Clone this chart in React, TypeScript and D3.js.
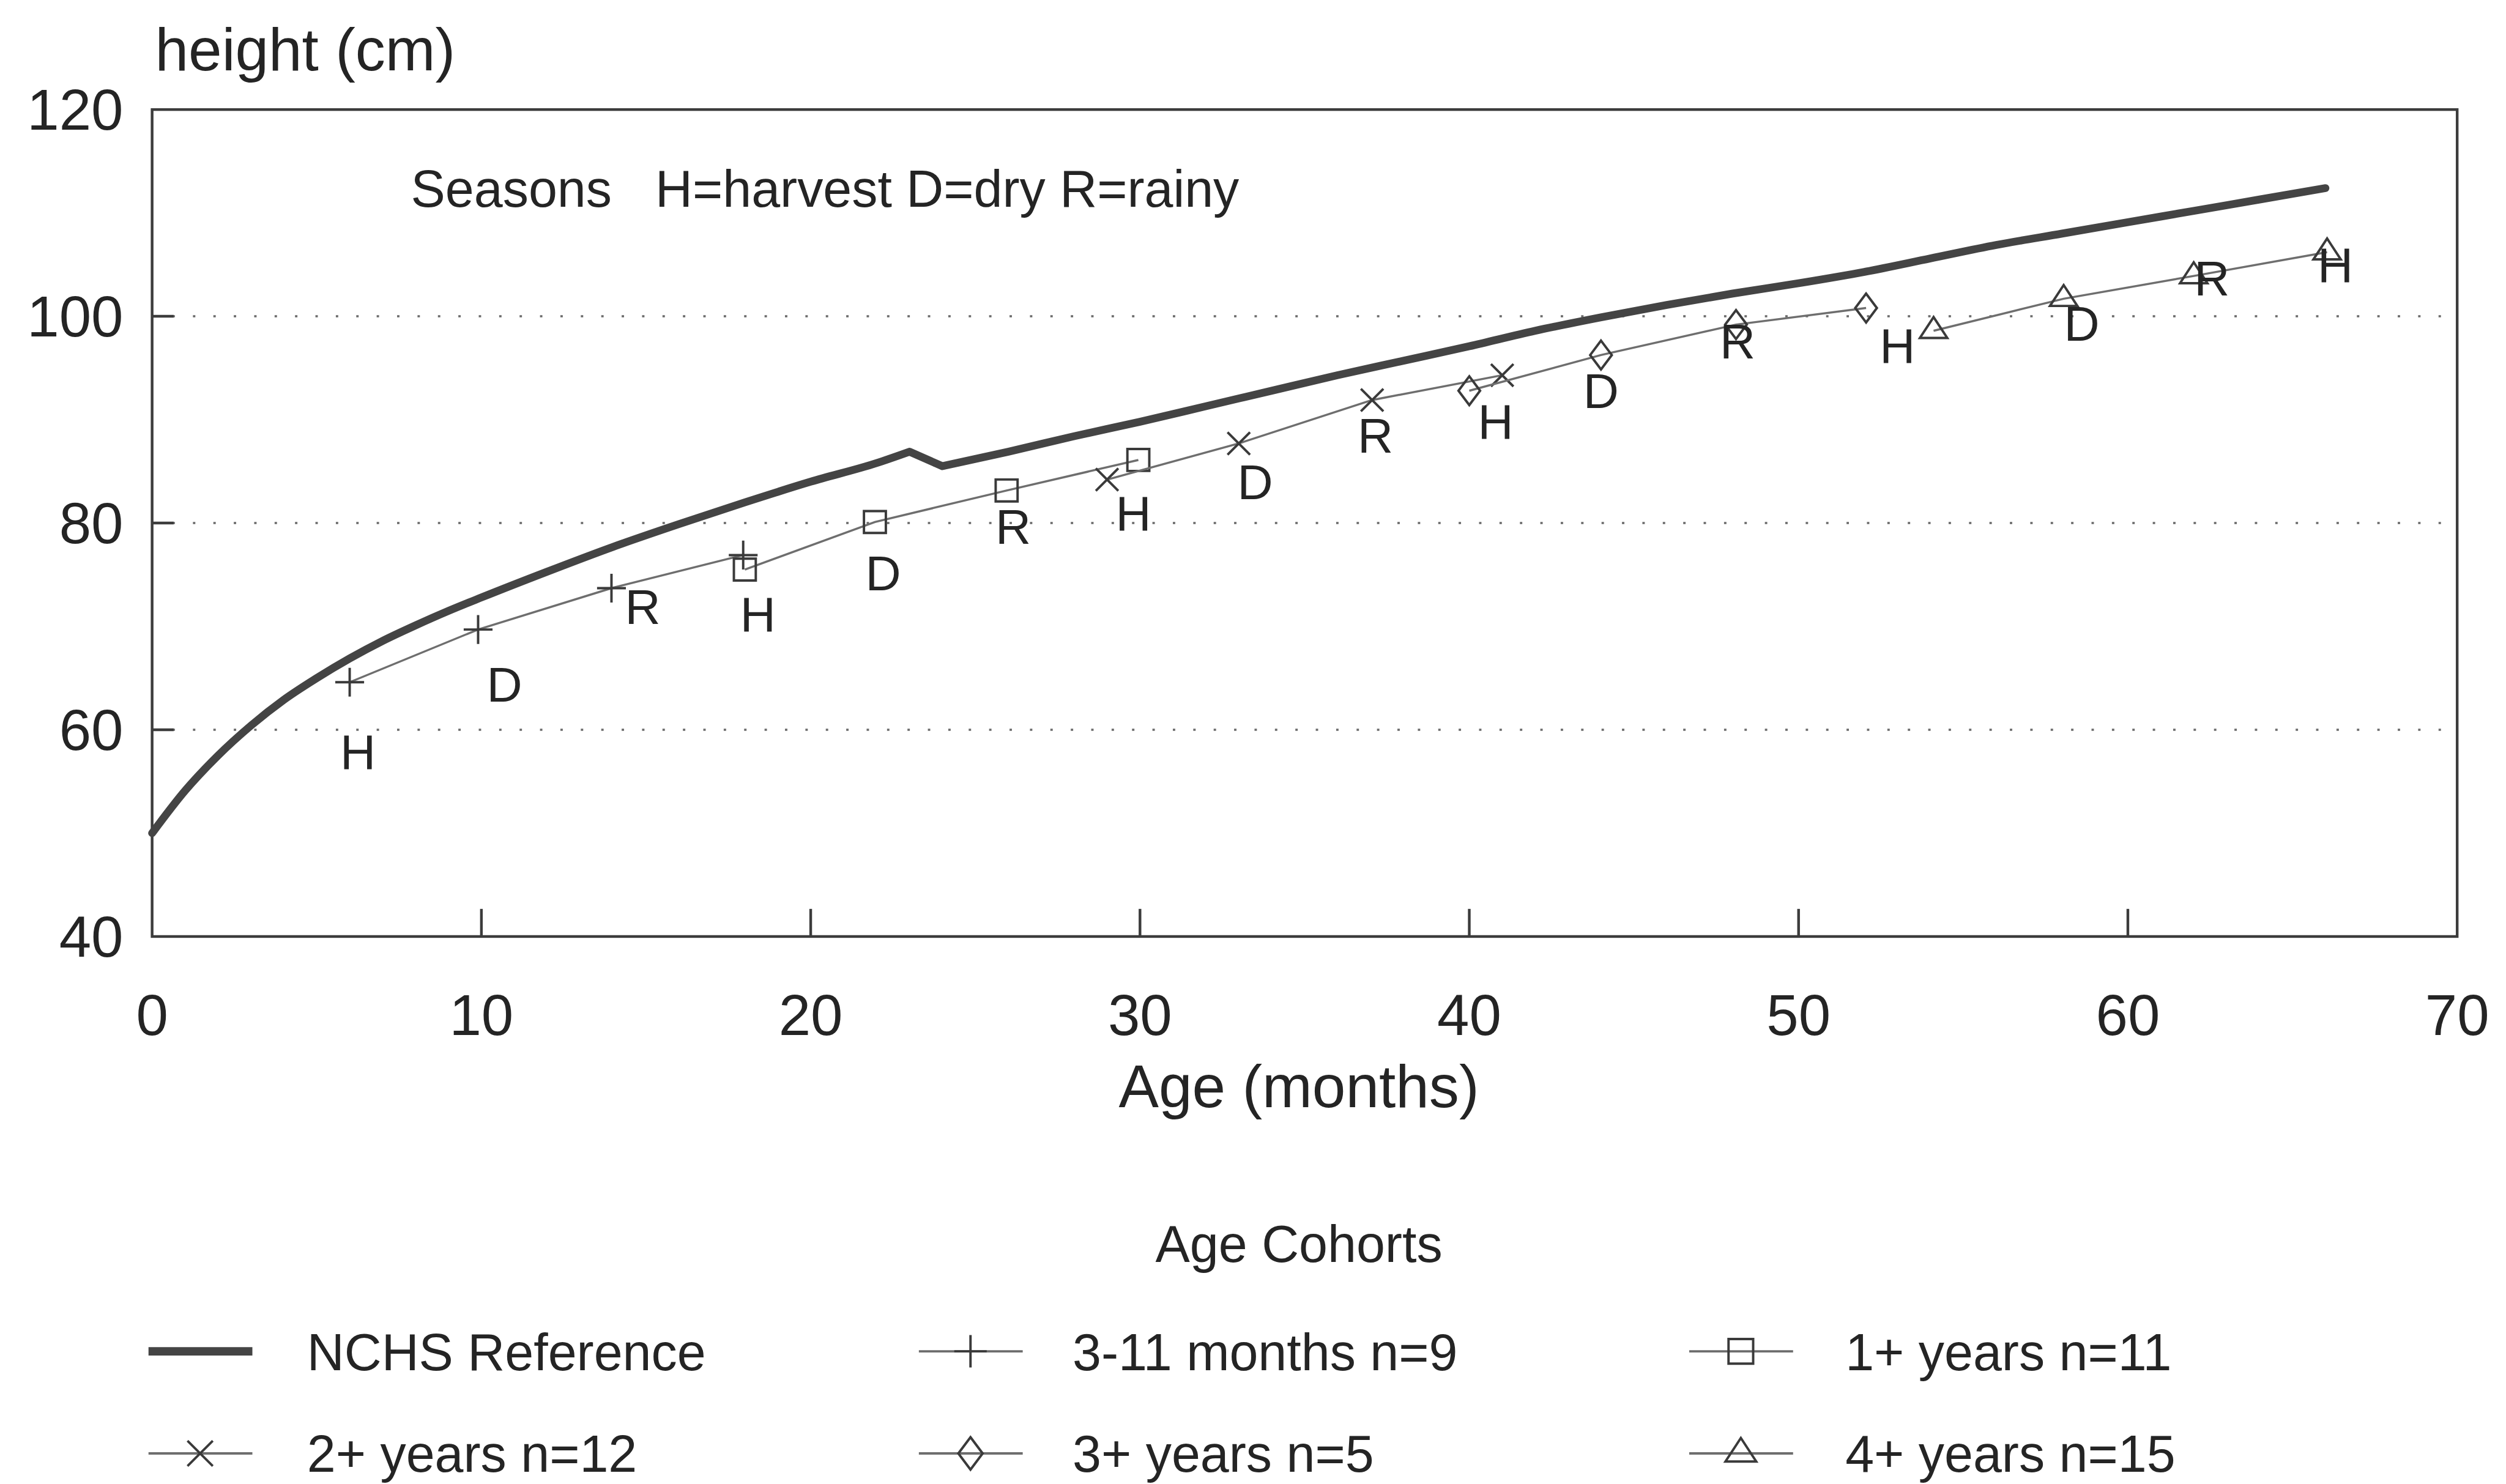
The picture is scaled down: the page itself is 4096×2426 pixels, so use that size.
import React from "react";
import * as d3 from "d3";

// reference pixel space, scaled to the window by the viewBox
const W = 4173;
const H = 2472;

const nchsAge = [0, 1, 2, 3, 4, 5, 6, 7, 8, 9, 10, 12, 14, 16, 18, 20, 22, 23, 24, 26, 28, 30, 32, 34, 36, 38, 40, 42, 44, 46, 48, 50, 52, 54, 56, 58, 60, 62, 64, 66];
const nchsHeight = [50.0, 54.1, 57.5, 60.4, 62.9, 65.0, 66.9, 68.6, 70.1, 71.5, 72.8, 75.3, 77.7, 79.9, 82.0, 84.0, 85.8, 86.9, 85.5, 86.9, 88.4, 89.8, 91.3, 92.8, 94.3, 95.7, 97.1, 98.6, 99.9, 101.1, 102.2, 103.2, 104.3, 105.6, 106.9, 108.0, 109.1, 110.2, 111.3, 112.4];
// recumbent length -> standing height switch
const nchsBreakAges = [23, 24];

const cohortNames = ["3-11 months n=9", "1+ years n=11", "2+ years n=12", "3+ years n=5", "4+ years n=15"];
const cohortMarkers = ["plus", "square", "times", "diamond", "triangle"];
const cohortAges = [
  [6.0, 9.9, 13.95, 17.95],
  [18.0, 21.95, 25.95, 29.95],
  [29.0, 33.0, 37.05, 41.0],
  [40.0, 44.0, 48.1, 52.05],
  [54.1, 58.05, 62.0, 66.05]
];
const cohortHeights = [
  [64.6, 69.7, 73.7, 76.9],
  [75.5, 80.1, 83.15, 86.1],
  [84.2, 87.7, 91.9, 94.3],
  [92.8, 96.25, 99.2, 100.8],
  [98.6, 101.7, 103.9, 106.2]
];

const seasonLetters = ["H", "D", "R", "H", "D", "R", "H", "D", "R", "H", "D", "R", "H", "D", "R", "H"];
const seasonAges = [6.25, 10.7, 14.9, 18.4, 22.2, 26.15, 29.8, 33.5, 37.15, 40.8, 44.0, 48.15, 53.0, 58.6, 62.55, 66.3];
const seasonHeights = [57.9, 64.4, 71.9, 71.2, 75.2, 79.7, 81.0, 84.0, 88.5, 89.85, 92.8, 97.6, 97.2, 99.3, 103.7, 105.0];

const xTicks = [0, 10, 20, 30, 40, 50, 60, 70];
const yTicks = [40, 60, 80, 100, 120];
const gridValues = [60, 80, 100];

const font = "'Liberation Sans', Arial, Helvetica, sans-serif";
const ink = "#242424";

const x = d3.scaleLinear().domain([0, 70]).range([253, 4092]);
const y = d3.scaleLinear().domain([40, 120]).range([1560, 182.5]);

// stroke-only marker shapes, size = half extent
const shapes = {
  plus: {
    draw(c, s) {
      c.moveTo(-s, 0); c.lineTo(s, 0);
      c.moveTo(0, -s); c.lineTo(0, s);
    }
  },
  times: {
    draw(c, s) {
      const r = s * 0.78;
      c.moveTo(-r, -r); c.lineTo(r, r);
      c.moveTo(-r, r); c.lineTo(r, -r);
    }
  },
  square: {
    draw(c, s) {
      const r = s * 0.76;
      c.moveTo(-r, -r); c.lineTo(r, -r); c.lineTo(r, r); c.lineTo(-r, r); c.closePath();
    }
  },
  diamond: {
    draw(c, s) {
      const w = s * 0.75;
      c.moveTo(0, -s); c.lineTo(w, 0); c.lineTo(0, s); c.lineTo(-w, 0); c.closePath();
    }
  },
  triangle: {
    draw(c, s) {
      c.moveTo(0, -s * 0.95); c.lineTo(s * 0.95, s * 0.5); c.lineTo(-s * 0.95, s * 0.5); c.closePath();
    }
  }
};

const markerPath = (name, s = 24) => d3.symbol().type(shapes[name]).size(s)();

const smooth = d3.line().x(d => x(d[0])).y(d => y(d[1])).curve(d3.curveMonotoneX);
const straight = d3.line().x(d => x(d[0])).y(d => y(d[1]));

const nchsPts = nchsAge.map((a, i) => [a, nchsHeight[i]]);
const [b0, b1] = nchsBreakAges;
const nchsPath =
  smooth(nchsPts.filter(p => p[0] <= b0)) +
  straight(nchsPts.filter(p => p[0] >= b0 && p[0] <= b1)) +
  smooth(nchsPts.filter(p => p[0] >= b1));

const legendCols = [
  { x0: 247, tx: 511 },
  { x0: 1530, tx: 1786 },
  { x0: 2813, tx: 3073 }
];
const legendRows = [2251, 2421];

const App = () => {
  const legendItems = [
    { label: "NCHS Reference", marker: null },
    ...cohortNames.map((n, i) => ({ label: n, marker: cohortMarkers[i] }))
  ];

  return (
    <div style={{ position: "absolute", left: 0, top: 0 }}>
      <svg width={4096} height={2426} viewBox={`0 0 ${W} ${H}`} style={{ display: "block", background: "#fff" }}>
        {/* gridlines */}
        {gridValues.map(v => (
          <line key={"g" + v} x1={x(0)} x2={x(70)} y1={y(v)} y2={y(v)}
            stroke="#6a6a6a" strokeWidth={3.5} strokeDasharray="4 30" />
        ))}

        {/* frame */}
        <rect x={x(0)} y={y(120)} width={x(70) - x(0)} height={y(40) - y(120)}
          fill="none" stroke="#3c3c3c" strokeWidth={4.5} />

        {/* ticks */}
        {gridValues.map(v => (
          <line key={"yt" + v} x1={x(0)} x2={x(0) + 36} y1={y(v)} y2={y(v)} stroke="#3c3c3c" strokeWidth={4.5} />
        ))}
        {xTicks.slice(1, -1).map(v => (
          <line key={"xt" + v} x1={x(v)} x2={x(v)} y1={y(40)} y2={y(40) - 46} stroke="#3c3c3c" strokeWidth={4.5} />
        ))}

        {/* tick labels */}
        {yTicks.map(v => (
          <text key={"yl" + v} x={205} y={y(v) + 34} textAnchor="end" fontFamily={font} fontSize={96} fill={ink}>{v}</text>
        ))}
        {xTicks.map(v => (
          <text key={"xl" + v} x={x(v)} y={1724} textAnchor="middle" fontFamily={font} fontSize={96} fill={ink}>{v}</text>
        ))}

        {/* titles */}
        <text x={258} y={117} fontFamily={font} fontSize={100} fill={ink}>height (cm)</text>
        <text x={2163} y={1844} textAnchor="middle" fontFamily={font} fontSize={100} fill={ink}>Age (months)</text>
        <text x={684} y={344} fontFamily={font} fontSize={86} fill={ink}>Seasons</text>
        <text x={1091} y={344} fontFamily={font} fontSize={86} fill={ink}>H=harvest D=dry R=rainy</text>

        {/* NCHS reference */}
        <path d={nchsPath} fill="none" stroke="#444" strokeWidth={13} strokeLinecap="round" strokeLinejoin="round" />

        {/* cohorts */}
        {cohortAges.map((ages, ci) => {
          const pts = ages.map((a, i) => [a, cohortHeights[ci][i]]);
          return (
            <g key={"c" + ci}>
              <path d={straight(pts)} fill="none" stroke="#6e6e6e" strokeWidth={3.5} />
              {pts.map((p, i) => (
                <path key={i} d={markerPath(cohortMarkers[ci])} transform={`translate(${x(p[0])},${y(p[1])})`}
                  fill="none" stroke="#3a3a3a" strokeWidth={4} />
              ))}
            </g>
          );
        })}

        {/* season letters */}
        {seasonLetters.map((s, i) => (
          <text key={"s" + i} x={x(seasonAges[i])} y={y(seasonHeights[i]) + 29} textAnchor="middle"
            fontFamily={font} fontSize={82} fill={ink}>{s}</text>
        ))}

        {/* legend */}
        <text x={2163} y={2102} textAnchor="middle" fontFamily={font} fontSize={86} fill={ink}>Age Cohorts</text>
        {legendItems.map((item, i) => {
          const col = legendCols[i % 3];
          const ly = legendRows[Math.floor(i / 3)];
          const mid = col.x0 + 86;
          return (
            <g key={"l" + i}>
              {item.marker ? (
                <>
                  <line x1={col.x0} x2={col.x0 + 173} y1={ly} y2={ly} stroke="#6e6e6e" strokeWidth={4} />
                  <path d={markerPath(item.marker, 27)} transform={`translate(${mid},${ly})`} fill="none" stroke="#3a3a3a" strokeWidth={4} />
                </>
              ) : (
                <line x1={col.x0} x2={col.x0 + 173} y1={ly} y2={ly} stroke="#444" strokeWidth={14} />
              )}
              <text x={col.tx} y={ly + 31} fontFamily={font} fontSize={86} fill={ink}>{item.label}</text>
            </g>
          );
        })}
      </svg>
    </div>
  );
};

export default App;
